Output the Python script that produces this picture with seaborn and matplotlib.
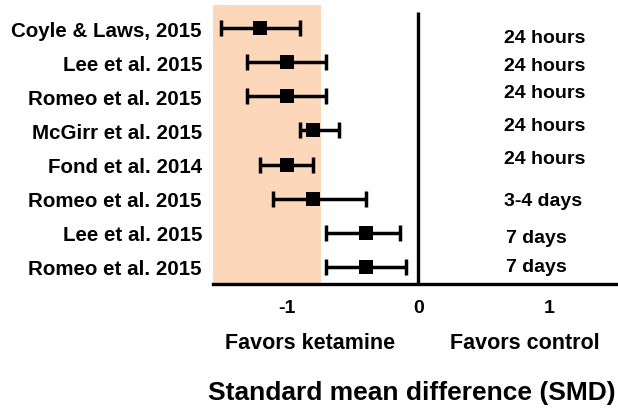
import matplotlib
matplotlib.use("Agg")
import matplotlib.pyplot as plt
import seaborn as sns
import pandas as pd

# data
studies = ["Coyle & Laws, 2015", "Lee et al. 2015", "Romeo et al. 2015",
           "McGirr et al. 2015", "Fond et al. 2014", "Romeo et al. 2015",
           "Lee et al. 2015", "Romeo et al. 2015"]
smd = [-1.2, -1.0, -1.0, -0.8, -1.0, -0.8, -0.4, -0.4]
ci_low = [-1.5, -1.3, -1.3, -0.9, -1.2, -1.1, -0.7, -0.7]
ci_high = [-0.9, -0.7, -0.7, -0.6, -0.8, -0.4, -0.14, -0.09]
timing = ["24 hours", "24 hours", "24 hours", "24 hours", "24 hours",
          "3-4 days", "7 days", "7 days"]
x_ticks = [-1, 0, 1]

df = pd.DataFrame({"study": studies, "smd": smd, "lo": ci_low, "hi": ci_high,
                   "timing": timing})
df["row"] = range(len(df))

sns.set_style("white")
plt.rcParams["font.family"] = ["Liberation Sans", "DejaVu Sans"]
plt.rcParams["font.weight"] = "bold"
plt.rcParams["text.color"] = "black"
plt.rcParams["xtick.color"] = "black"
plt.rcParams["ytick.color"] = "black"

fig = plt.figure(figsize=(6.18, 4.10), dpi=100)
ax = fig.add_axes([213 / 618, 125 / 410, 1 - 213 / 618, 279 / 410])

# shaded "favors ketamine" zone
ax.axvspan(-1.56, -0.74, color="#FCD7B9", lw=0, zorder=0)

# confidence intervals
ax.errorbar(df["smd"], df["row"],
            xerr=[df["smd"] - df["lo"], df["hi"] - df["smd"]],
            fmt="none", ecolor="black", elinewidth=2.5, capsize=6,
            capthick=2.5, zorder=2)
sns.scatterplot(data=df, x="smd", y="row", marker="s", s=100, color="black",
                linewidth=0, ax=ax, zorder=3, legend=False)

# zero line
ax.vlines(0, -0.47, 7.5, color="black", lw=2.4, zorder=2)

ax.set_xlim(-1.56, 1.52)
ax.set_ylim(7.5, -0.674)
ax.set_xticks(x_ticks)
ax.set_xticklabels([str(t) for t in x_ticks], fontsize=14, fontweight="bold")
ax.set_yticks(df["row"])
ax.set_yticklabels(df["study"], fontsize=14.8, fontweight="bold")
ax.tick_params(axis="y", length=0, pad=8)
ax.tick_params(axis="x", length=7, width=2.4, direction="out", pad=4)
ax.set_xlabel("")
ax.set_ylabel("")
for s in ["left", "top", "right"]:
    ax.spines[s].set_visible(False)
ax.spines["bottom"].set_linewidth(2.4)
ax.spines["bottom"].set_color("black")

# follow-up time labels
label_shift = [0.27, 0.09, -0.1, -0.15, -0.18, 0.06, 0.15, 0.0]
for r, (t, dy) in enumerate(zip(df["timing"], label_shift)):
    ax.text(0.65 if "hours" in t or "3-4" in t else 0.67, r + dy, t,
            fontsize=14, fontweight="bold", ha="left", va="center")

ax.text(-0.825, 9.2, "Favors ketamine", fontsize=15.5, fontweight="bold",
        ha="center", va="center", clip_on=False)
ax.text(0.815, 9.2, "Favors control", fontsize=15.5, fontweight="bold",
        ha="center", va="center", clip_on=False)

fig.text(411.7 / 618, 1 - 393 / 410, "Standard mean difference (SMD)",
         fontsize=19, fontweight="bold", ha="center", va="center")

fig.savefig("out.png", dpi=100)
plt.close(fig)
